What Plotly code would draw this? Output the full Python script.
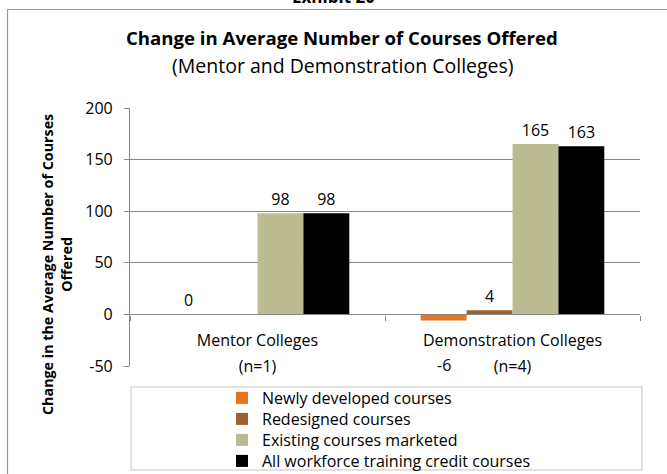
import plotly.graph_objects as go

# ---- data ----
categories = ["Mentor Colleges", "Demonstration Colleges"]
n_labels = ["(n=1)", "(n=4)"]
series_names = ["Newly developed courses", "Redesigned courses",
                "Existing courses marketed", "All workforce training credit courses"]
newly = [0, -6]
redesigned = [None, 4]
existing = [98, 165]
all_workforce = [98, 163]
y_ticks = [-50, 0, 50, 100, 150, 200]

series_values = [newly, redesigned, existing, all_workforce]
colors = ["#E5761C", "#9B6132", "#BBBC92", "#000000"]

FONT = "Open Sans"
W, H = 667, 474
ML, MR, MT, MB = 130, 27, 108, 108
BARGAP = 0.28
YMIN, YMAX = y_ticks[0], y_ticks[-1]
plot_w = W - ML - MR
plot_h = H - MT - MB
LEGEND_ROWS_PX = [398, 419, 440, 461]


def px_x(p):
    return (p - ML) / plot_w


def px_y(p):
    return (H - MB - p) / plot_h


legend_keys = ["legend"] + [f"legend{i}" for i in range(2, len(series_names) + 1)]

fig = go.Figure()
for name, vals, col, lk in zip(series_names, series_values, colors, legend_keys):
    txt = ["" if (v is None or v < 0) else str(v) for v in vals]
    fig.add_trace(go.Bar(
        name=name, x=categories, y=vals, marker=dict(color=col, line=dict(width=0)),
        text=txt, textposition="outside", cliponaxis=False, legend=lk,
        textfont=dict(family=FONT, size=16, color="#000000"),
    ))

# negative-value labels sit on the bottom of the plot area
bar_w = plot_w / len(categories) * (1 - BARGAP) / len(series_values)
annotations = []
for si, vals in enumerate(series_values):
    for ci, v in enumerate(vals):
        if v is not None and v < 0:
            annotations.append(dict(
                x=categories[ci], y=YMIN, xref="x", yref="y", text=str(v), showarrow=False,
                xshift=(si - (len(series_values) - 1) / 2) * bar_w, yshift=1,
                xanchor="center", yanchor="middle",
                font=dict(family=FONT, size=16, color="#000000")))


def paper_text(text, x, y, size, angle=0):
    return dict(text=text, x=px_x(x), y=px_y(y), xref="paper", yref="paper",
                xanchor="center", yanchor="middle", showarrow=False, textangle=angle,
                font=dict(family=FONT, size=size, color="#000000"))


annotations += [
    paper_text("<b>Exhibit 20</b>", 333, -3, 17),
    paper_text("<b>Change in Average Number of Courses Offered</b>", 342, 38, 18.6),
    paper_text("(Mentor and Demonstration Colleges)", 343, 66, 19.5),
    paper_text("<b>Change in the Average Number of Courses<br>Offered</b>", 57, 265, 14.3, -90),
]

shapes = [
    # outer chart border
    dict(type="rect", xref="paper", yref="paper", x0=px_x(7.5), x1=px_x(700),
         y0=px_y(9.5), y1=px_y(520), line=dict(color="#9A9A9A", width=1.2), layer="below"),
    # legend box
    dict(type="rect", xref="paper", yref="paper", x0=px_x(131), x1=px_x(642),
         y0=px_y(387), y1=px_y(470), line=dict(color="#D9D9D9", width=1.5), layer="below"),
]

legend_layout = {}
for lk, row in zip(legend_keys, LEGEND_ROWS_PX):
    legend_layout[lk] = dict(x=px_x(222), y=px_y(row), xanchor="left", yanchor="middle",
                             bgcolor="rgba(0,0,0,0)", borderwidth=0,
                             font=dict(family=FONT, size=16, color="#000000"))

GRAY = "#878787"
fig.update_layout(
    width=W, height=H, margin=dict(l=ML, r=MR, t=MT, b=MB, autoexpand=False),
    paper_bgcolor="white", plot_bgcolor="white",
    barmode="group", bargap=BARGAP, bargroupgap=0,
    font=dict(family=FONT, size=16, color="#000000"),
    showlegend=True,
    xaxis=dict(type="category", categoryorder="array", categoryarray=categories,
               anchor="free", position=(0 - YMIN) / (YMAX - YMIN),
               showline=True, linecolor=GRAY, linewidth=1.2,
               ticks="outside", tickson="boundaries", ticklen=5, tickcolor=GRAY,
               showgrid=False, ticklabelstandoff=11,
               tickfont=dict(family=FONT, size=16), range=[-0.5, len(categories) - 0.5]),
    xaxis2=dict(overlaying="x", anchor="free", position=0, range=[-0.5, len(categories) - 0.5],
                tickmode="array", tickvals=list(range(len(categories))), ticktext=n_labels,
                showline=False, showgrid=False, ticks="", zeroline=False,
                ticklabelstandoff=-11, tickfont=dict(family=FONT, size=16)),
    yaxis=dict(range=[YMIN, YMAX], tickvals=y_ticks, ticktext=[str(v) for v in y_ticks],
               showgrid=True, gridcolor=GRAY, gridwidth=1,
               zeroline=False, showline=True, linecolor=GRAY, linewidth=1.2,
               ticks="outside", ticklen=5, tickcolor=GRAY, ticklabelstandoff=8,
               tickfont=dict(family=FONT, size=16)),
    annotations=annotations, shapes=shapes,
    **legend_layout,
)
# invisible trace so the secondary (n=...) axis renders
fig.add_trace(go.Scatter(x=[0], y=[None], xaxis="x2", yaxis="y", showlegend=False,
                         hoverinfo="skip", mode="markers"))

fig.write_html("out.html", config={"displayModeBar": False},
               post_script="document.body.style.margin='0';document.body.style.overflow='hidden';")
